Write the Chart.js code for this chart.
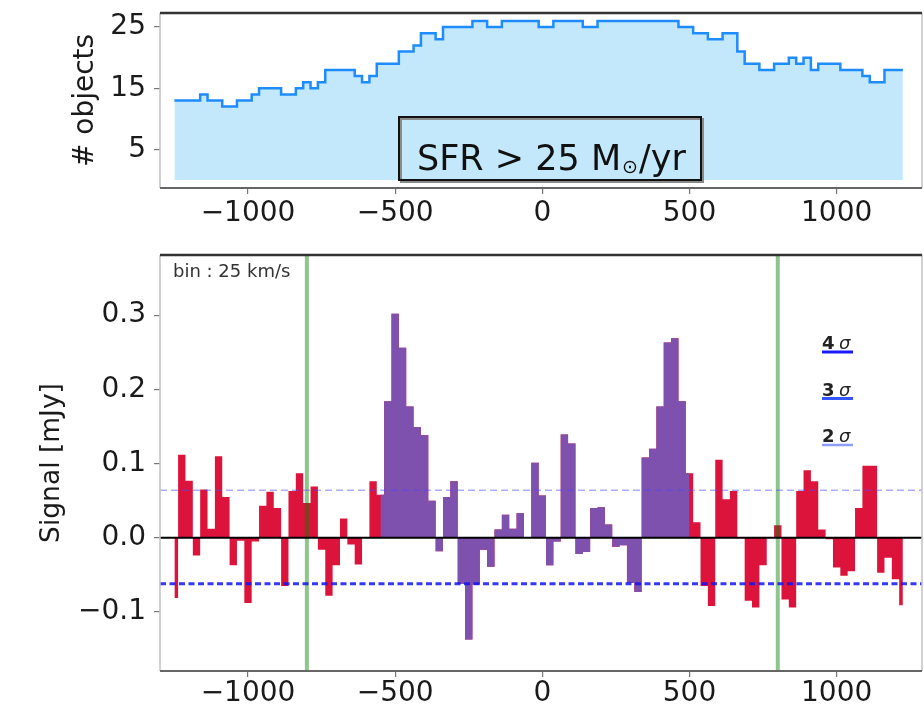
<!DOCTYPE html>
<html>
<head>
<meta charset="utf-8">
<script src="https://cdn.jsdelivr.net/npm/chart.js@4.4.1/dist/chart.umd.min.js"></script>
<style>
  html, body { margin: 0; padding: 0; background: #fff; }
  #wrap { position: relative; width: 924px; height: 714px; overflow: hidden; }
  canvas { position: absolute; left: 0; }
</style>
</head>
<body>
<div id="wrap">
  <canvas id="countChart" width="924" height="235" style="top:0;width:924px;height:235px"></canvas>
  <canvas id="signalChart" width="924" height="479" style="top:235px;width:924px;height:479px"></canvas>
</div>
<script>
// velocity grid (km/s): bin centres every 25 km/s starting at -1250
const VEL_START = -1250;
const BIN_WIDTH = 25;

// number of stacked objects per velocity bin
const objectCounts = [
  13, 13, 13, 13, 14, 13, 13, 12, 12, 13,
  13, 14, 15, 15, 15, 14, 14, 15, 16, 15,
  16, 18, 18, 18, 18, 17, 16, 17, 19, 19,
  19, 21, 21, 22, 24, 24, 23, 25, 25, 25,
  25, 26, 26, 25, 25, 26, 26, 26, 26, 26,
  25, 25, 26, 26, 26, 26, 25, 25, 26, 26,
  26, 26, 26, 26, 26, 26, 26, 26, 26, 25,
  25, 24, 24, 23, 23, 24, 24, 21, 19, 19,
  18, 18, 19, 19, 20, 19, 20, 18, 19, 19,
  19, 18, 18, 18, 17, 16, 16, 18, 18, 18
];

// stacked signal per velocity bin (mJy)
const signalMJy = [
  -0.081, 0.112, 0.077, -0.024, 0.065, 0.012, 0.110, 0.055, -0.037, -0.004,
  -0.088, -0.005, 0.043, 0.062, 0.040, -0.065, 0.063, 0.087, 0.047, 0.069,
  -0.016, -0.078, -0.037, 0.026, -0.009, -0.036, 0.000, 0.076, 0.058, 0.184,
  0.302, 0.256, 0.177, 0.149, 0.138, 0.050, -0.018, 0.055, 0.076, -0.062,
  -0.137, -0.063, -0.016, -0.039, 0.011, 0.031, 0.012, 0.033, 0.001, 0.101,
  0.057, -0.037, -0.005, 0.139, 0.127, -0.022, -0.019, 0.040, 0.041, 0.018,
  -0.012, -0.010, -0.061, -0.073, 0.108, 0.120, 0.177, 0.263, 0.269, 0.184,
  0.087, 0.021, -0.065, -0.092, 0.105, 0.052, 0.063, 0.000, -0.085, -0.094,
  -0.037, 0.000, 0.017, -0.083, -0.094, 0.063, 0.091, 0.076, 0.011, -0.002,
  -0.040, -0.051, -0.045, 0.040, 0.097, 0.097, -0.047, -0.027, -0.056, -0.091
];

const velTicks = [-1000, -500, 0, 500, 1000];
const countTicks = [5, 15, 25];
const signalTicks = [-0.1, 0.0, 0.1, 0.2, 0.3];

const lineWindow = [-550, 500];     // velocity range drawn in purple
const markerVel = [-800, 800];      // green vertical markers
const sigmaUpper = 0.064;
const sigmaLower = -0.062;
const sigmaLabels = ['4', '3', '2'];

const X_MIN = -1299, X_MAX = 1290;
const COUNT_MIN = -1.3, COUNT_MAX = 27.3;
const SIG_MIN = -0.1795, SIG_MAX = 0.381;

Chart.defaults.font.family = "'DejaVu Sans', sans-serif";
Chart.defaults.color = '#1a1a1a';

const velocities = objectCounts.map((_, i) => VEL_START + i * BIN_WIDTH);
const minus = (s) => String(s).replace('-', '\u2212');

function velAxis(axisHeight, labelPad) {
    return {
        type: 'linear',
        min: X_MIN,
        max: X_MAX,
        afterBuildTicks: (s) => { s.ticks = velTicks.map(v => ({ value: v })); },
        afterFit: (s) => { s.height = axisHeight; s.paddingLeft = 0; s.paddingRight = 0; },
        grid: { drawOnChartArea: false, drawTicks: true, tickLength: 6, color: '#777', lineWidth: 1.2 },
        border: { display: false },
        ticks: {
            autoSkip: false, maxRotation: 0, padding: labelPad,
            font: { size: 28 }, color: '#1a1a1a',
            callback: (v) => minus(v)
        }
    };
}

function valueAxis(min, max, ticks, fmt, title, titleSize, titleX) {
    return {
        min, max,
        afterBuildTicks: (s) => { s.ticks = ticks.map(v => ({ value: v })); },
        afterFit: (s) => { s.width = 160; s.paddingTop = 0; s.paddingBottom = 0; },
        grid: { drawOnChartArea: false, drawTicks: true, tickLength: 6, color: '#777', lineWidth: 1.2 },
        border: { display: false },
        ticks: { padding: 8, font: { size: 28 }, color: '#1a1a1a', callback: fmt },
        title: {
            display: true, text: title, color: '#1a1a1a',
            font: { size: titleSize },
            padding: { top: titleX - titleSize * 0.6, bottom: 0 }
        }
    };
}

// matplotlib style frame: dark top/bottom spines, light side spines
const framePlugin = {
    id: 'frame',
    afterDatasetsDraw(chart) {
        const { ctx, chartArea: a } = chart;
        ctx.save();
        ctx.lineWidth = 1.5;
        ctx.strokeStyle = '#c4c4c4';
        ctx.beginPath();
        ctx.moveTo(a.left, a.top); ctx.lineTo(a.left, a.bottom);
        ctx.moveTo(a.right, a.top); ctx.lineTo(a.right, a.bottom);
        ctx.stroke();
        ctx.lineWidth = 2.5;
        ctx.strokeStyle = '#333';
        ctx.beginPath();
        ctx.moveTo(a.left, a.top); ctx.lineTo(a.right, a.top);
        ctx.stroke();
        ctx.strokeStyle = '#666';
        ctx.lineWidth = 2;
        ctx.beginPath();
        ctx.moveTo(a.left, a.bottom); ctx.lineTo(a.right, a.bottom);
        ctx.stroke();
        ctx.restore();
    }
};

const sfrBox = {
    id: 'sfrBox',
    afterDatasetsDraw(chart) {
        const ctx = chart.ctx;
        ctx.save();
        ctx.strokeStyle = '#8a8a8a';
        ctx.lineWidth = 2;
        ctx.strokeRect(401, 119, 302, 63);
        ctx.strokeStyle = '#111';
        ctx.strokeRect(399, 117, 302, 63);
        ctx.fillStyle = '#111';
        ctx.textBaseline = 'alphabetic';
        let x = 417;
        ctx.font = "35px 'DejaVu Sans'";
        ctx.fillText('SFR > 25 M', x, 170);
        x += ctx.measureText('SFR > 25 M').width + 1;
        ctx.font = "19px 'DejaVu Sans'";
        ctx.fillText('\u2299', x, 173);
        x += ctx.measureText('\u2299').width + 1;
        ctx.font = "35px 'DejaVu Sans'";
        ctx.fillText('/yr', x, 170);
        ctx.restore();
    }
};

const annotations = {
    id: 'annotations',
    afterDatasetsDraw(chart) {
        const { ctx, chartArea: a } = chart;
        ctx.save();
        ctx.fillStyle = '#333';
        ctx.font = "18px 'DejaVu Sans'";
        ctx.textBaseline = 'alphabetic';
        ctx.fillText('bin : 25 km/s', a.left + 13, a.top + 22);

        const lineColors = ['#1a1aff', '#3355ff', '#8c9cff'];
        const lineWidths = [3, 3, 2.5];
        sigmaLabels.forEach((lab, i) => {
            const y = a.top + 97 + i * 46.5;
            const x0 = 822;
            ctx.fillStyle = '#222';
            ctx.font = "bold 18px 'DejaVu Sans'";
            ctx.fillText(lab, x0, y - 3);
            ctx.font = "italic 18px 'DejaVu Sans'";
            ctx.fillText('\u03c3', x0 + 17, y - 3);
            ctx.strokeStyle = lineColors[i];
            ctx.lineWidth = lineWidths[i];
            ctx.beginPath();
            ctx.moveTo(x0, y);
            ctx.lineTo(x0 + 31, y);
            ctx.stroke();
        });
        ctx.restore();
    }
};

const toPoints = (vals) => vals.map((y, i) => ({ x: velocities[i], y }));
const signalPoints = toPoints(signalMJy);
const linePoints = signalPoints.filter(p => p.x >= lineWindow[0] && p.x <= lineWindow[1]);

const baseOptions = {
    responsive: false,
    animation: false,
    devicePixelRatio: 1,
    events: [],
    plugins: { legend: { display: false }, tooltip: { enabled: false } },
    elements: { point: { radius: 0 }, line: { tension: 0 } }
};

new Chart(document.getElementById('countChart'), {
    type: 'line',
    data: {
        datasets: [{
            data: toPoints(objectCounts),
            stepped: 'middle',
            fill: 'origin',
            borderColor: '#1e8cff',
            borderWidth: 2.5,
            backgroundColor: '#c4e8fb'
        }]
    },
    options: {
        ...baseOptions,
        layout: { padding: { top: 13, right: 2, left: 0, bottom: 0 } },
        scales: {
            x: velAxis(47, 3),
            y: valueAxis(COUNT_MIN, COUNT_MAX, countTicks, (v) => String(v), '# objects', 28, 86)
        }
    },
    plugins: [sfrBox, framePlugin]
});

const hLine = (y) => [{ x: X_MIN, y }, { x: X_MAX, y }];
const vLine = (x) => [{ x, y: SIG_MIN }, { x, y: SIG_MAX }];

new Chart(document.getElementById('signalChart'), {
    type: 'line',
    data: {
        datasets: [
            { data: hLine(0), borderColor: '#000', borderWidth: 2 },
            { data: hLine(sigmaUpper), borderColor: 'rgba(70,70,255,0.45)', borderWidth: 1.5, borderDash: [7, 4] },
            { data: hLine(sigmaLower), borderColor: 'rgba(20,20,245,0.85)', borderWidth: 3, borderDash: [6, 3.5] },
            { data: vLine(markerVel[0]), borderColor: 'rgba(0,128,0,0.45)', borderWidth: 4 },
            { data: vLine(markerVel[1]), borderColor: 'rgba(0,128,0,0.45)', borderWidth: 4 },
            { data: linePoints, stepped: 'middle', fill: 'origin', borderWidth: 0, borderColor: 'rgba(0,0,0,0)', backgroundColor: '#7e51ae' },
            { data: signalPoints, stepped: 'middle', fill: 'origin', borderWidth: 0, borderColor: 'rgba(0,0,0,0)', backgroundColor: '#dc143c' }
        ]
    },
    options: {
        ...baseOptions,
        layout: { padding: { top: 20, right: 2, left: 0, bottom: 0 } },
        scales: {
            x: velAxis(43, 0),
            y: valueAxis(SIG_MIN, SIG_MAX, signalTicks, (v) => minus(v.toFixed(1)), 'Signal [mJy]', 26.5, 52)
        }
    },
    plugins: [framePlugin, annotations]
});
</script>
</body>
</html>
